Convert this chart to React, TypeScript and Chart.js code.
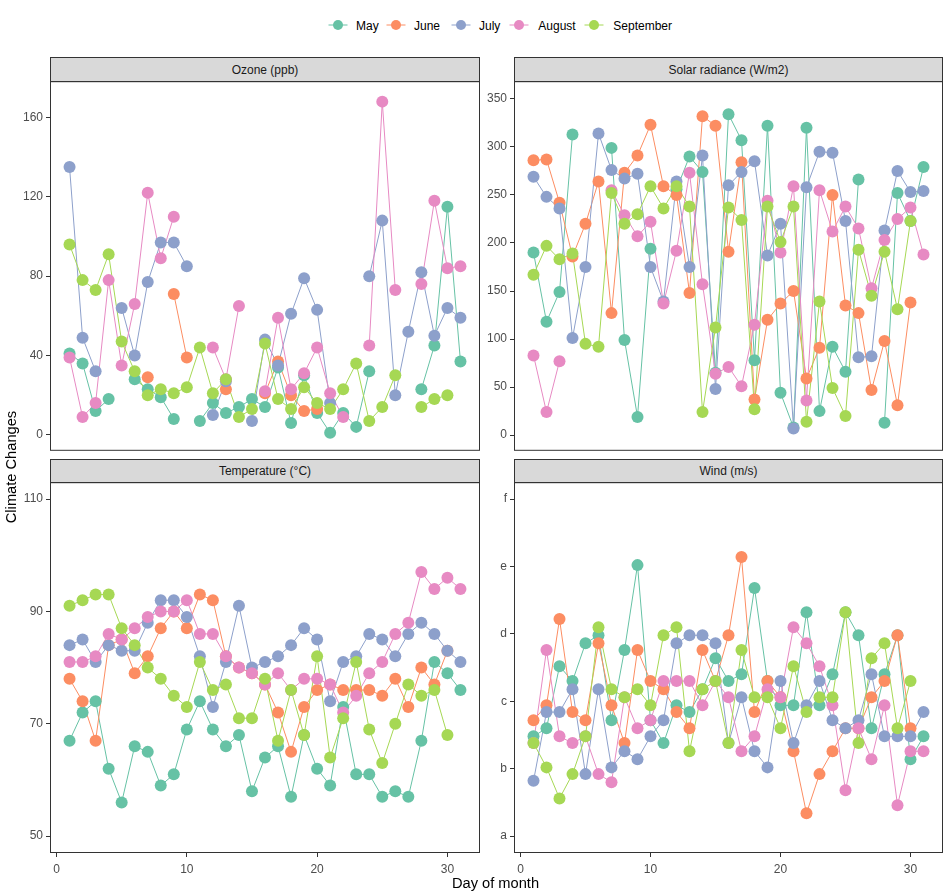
import React, { useEffect, useRef } from "react";
import { Chart, registerables } from "chart.js";

Chart.register(...registerables);

const FONT = '"Liberation Sans", Arial, Helvetica, sans-serif';

// ---------------- data (R airquality, May–September 1973) ----------------
const months = ["May", "June", "July", "August", "September"];
const monthColors = ["#66C2A5", "#FC8D62", "#8DA0CB", "#E78AC3", "#A6D854"];
const days = [1, 2, 3, 4, 5, 6, 7, 8, 9, 10, 11, 12, 13, 14, 15, 16, 17, 18, 19, 20, 21, 22, 23, 24, 25, 26, 27, 28, 29, 30, 31];

const ozoneMay = [41, 36, 12, 18, null, 28, 23, 19, 8, null, 7, 16, 11, 14, 18, 14, 34, 6, 30, 11, 1, 11, 4, 32, null, null, null, 23, 45, 115, 37];
const ozoneJun = [null, null, null, null, null, null, 29, null, 71, 39, null, null, 23, null, null, 21, 37, 20, 12, 13, null, null, null, null, null, null, null, null, null, null];
const ozoneJul = [135, 49, 32, null, 64, 40, 77, 97, 97, 85, null, 10, 27, null, 7, 48, 35, 61, 79, 63, 16, null, null, 80, 108, 20, 52, 82, 50, 64, 59];
const ozoneAug = [39, 9, 16, 78, 35, 66, 122, 89, 110, null, null, 44, 28, 65, null, 22, 59, 23, 31, 44, 21, 9, null, 45, 168, 73, null, 76, 118, 84, 85];
const ozoneSep = [96, 78, 73, 91, 47, 32, 20, 23, 21, 24, 44, 21, 28, 9, 13, 46, 18, 13, 24, 16, 13, 23, 36, 7, 14, 30, null, 14, 18, 20];

const solarMay = [190, 118, 149, 313, null, null, 299, 99, 19, 194, null, 256, 290, 274, 65, 334, 307, 78, 322, 44, 8, 320, 25, 92, 66, 266, null, 13, 252, 223, 279];
const solarJun = [286, 287, 242, 186, 220, 264, 127, 273, 291, 323, 259, 250, 148, 332, 322, 191, 284, 37, 120, 137, 150, 59, 91, 250, 135, 127, 47, 98, 31, 138];
const solarJul = [269, 248, 236, 101, 175, 314, 276, 267, 272, 175, 139, 264, 175, 291, 48, 260, 274, 285, 187, 220, 7, 258, 295, 294, 223, 81, 82, 213, 275, 253, 254];
const solarAug = [83, 24, 77, null, null, null, 255, 229, 207, 222, 137, 192, 273, 157, 64, 71, 51, 115, 244, 190, 259, 36, 255, 212, 238, 215, 153, 203, 225, 237, 188];
const solarSep = [167, 197, 183, 189, 95, 92, 252, 220, 230, 259, 236, 259, 238, 24, 112, 237, 224, 27, 238, 201, 238, 14, 139, 49, 20, 193, 145, 191, 131, 223];

const tempMay = [67, 72, 74, 62, 56, 66, 65, 59, 61, 69, 74, 69, 66, 68, 58, 64, 66, 57, 68, 62, 59, 73, 61, 61, 57, 58, 57, 67, 81, 79, 76];
const tempJun = [78, 74, 67, 84, 85, 79, 82, 87, 90, 87, 93, 92, 82, 80, 79, 77, 72, 65, 73, 76, 77, 76, 76, 76, 75, 78, 73, 80, 77, 83];
const tempJul = [84, 85, 81, 84, 83, 83, 88, 92, 92, 89, 82, 73, 81, 91, 80, 81, 82, 84, 87, 85, 74, 81, 82, 86, 85, 82, 86, 88, 86, 83, 81];
const tempAug = [81, 81, 82, 86, 85, 87, 89, 90, 90, 92, 86, 86, 82, 80, 79, 77, 79, 76, 78, 78, 77, 72, 75, 79, 81, 86, 88, 97, 94, 96, 94];
const tempSep = [91, 92, 93, 93, 87, 84, 80, 78, 75, 73, 81, 76, 77, 71, 71, 78, 67, 76, 68, 82, 64, 71, 81, 69, 63, 70, 77, 75, 76, 68];

const windMay = [7.4, 8.0, 12.6, 11.5, 14.3, 14.9, 8.6, 13.8, 20.1, 8.6, 6.9, 9.7, 9.2, 10.9, 13.2, 11.5, 12.0, 18.4, 11.5, 9.7, 9.7, 16.6, 9.7, 12.0, 16.6, 14.9, 8.0, 12.0, 14.9, 5.7, 7.4];
const windJun = [8.6, 9.7, 16.1, 9.2, 8.6, 14.3, 9.7, 6.9, 13.8, 11.5, 10.9, 9.2, 8.0, 13.8, 11.5, 14.9, 20.7, 9.2, 11.5, 10.3, 6.3, 1.7, 4.6, 6.3, 8.0, 8.0, 10.3, 11.5, 14.9, 8.0];
const windJul = [4.1, 9.2, 9.2, 10.9, 4.6, 10.9, 5.1, 6.3, 5.7, 7.4, 8.6, 14.3, 14.9, 14.9, 14.3, 6.9, 10.3, 6.3, 5.1, 11.5, 6.9, 9.7, 11.5, 8.6, 8.0, 8.6, 12.0, 7.4, 7.4, 7.4, 9.2];
const windAug = [6.9, 13.8, 7.4, 6.9, 7.4, 4.6, 4.0, 10.3, 8.0, 8.6, 11.5, 11.5, 11.5, 9.7, 11.5, 10.3, 6.3, 7.4, 10.9, 10.3, 15.5, 14.3, 12.6, 9.7, 3.4, 8.0, 5.7, 9.7, 2.3, 6.3, 6.3];
const windSep = [6.9, 5.1, 2.8, 4.6, 7.4, 15.5, 10.9, 10.3, 10.9, 9.7, 14.9, 15.5, 6.3, 10.9, 11.5, 6.9, 13.8, 10.3, 10.3, 8.0, 12.6, 9.2, 10.3, 10.3, 16.6, 6.9, 13.2, 14.3, 8.0, 11.5];

const xTicks = [0, 10, 20, 30];
const ozoneTicks = [0, 40, 80, 120, 160];
const solarTicks = [0, 50, 100, 150, 200, 250, 300, 350];
const tempTicks = [50, 70, 90, 110];
const windTicks = [0, 5, 10, 15, 20, 25];
const windTickLabels = ["a", "b", "c", "d", "e", "f"];

const panelTitles = ["Ozone (ppb)", "Solar radiance (W/m2)", "Temperature (°C)", "Wind (m/s)"];
const xTitle = "Day of month";
const yTitle = "Climate Changes";

// ---------------- layout ----------------
const AXW = 45; // y-axis box width inside canvas
const XH = 34; // x-axis box height inside canvas
const PAD = 10;

type PanelSpec = {
  title: string;
  left: number;
  top: number;
  w: number;
  h: number;
  stripTop: number;
  stripH: number;
  hasX: boolean;
  yMin: number;
  yMax: number;
  yTicks: number[];
  yLabels: string[] | null;
  series: (number | null)[][];
};

const panels: PanelSpec[] = [
  { title: panelTitles[0], left: 50, top: 81, w: 430, h: 370, stripTop: 57, stripH: 25, hasX: false, yMin: -8.06, yMax: 178.3, yTicks: ozoneTicks, yLabels: null, series: [ozoneMay, ozoneJun, ozoneJul, ozoneAug, ozoneSep] },
  { title: panelTitles[1], left: 514, top: 81, w: 429, h: 370, stripTop: 57, stripH: 25, hasX: false, yMin: -16.3, yMax: 368.4, yTicks: solarTicks, yLabels: null, series: [solarMay, solarJun, solarJul, solarAug, solarSep] },
  { title: panelTitles[2], left: 50, top: 482, w: 430, h: 371, stripTop: 459, stripH: 24, hasX: true, yMin: 47, yMax: 113, yTicks: tempTicks, yLabels: null, series: [tempMay, tempJun, tempJul, tempAug, tempSep] },
  { title: panelTitles[3], left: 514, top: 482, w: 429, h: 371, stripTop: 459, stripH: 24, hasX: true, yMin: -1.25, yMax: 26.25, yTicks: windTicks, yLabels: windTickLabels, series: [windMay, windJun, windJul, windAug, windSep] },
];

const borderPlugin = {
  id: "panelBorder",
  afterDraw(chart: any) {
    const { ctx, chartArea: a } = chart;
    ctx.save();
    ctx.strokeStyle = "#333333";
    ctx.lineWidth = 1;
    ctx.strokeRect(a.left + 0.5, a.top + 0.5, a.right - a.left - 1, a.bottom - a.top - 1);
    ctx.restore();
  },
};

function Panel({ spec }: { spec: PanelSpec }) {
  const ref = useRef<HTMLCanvasElement>(null);
  const cw = AXW + spec.w + PAD;
  const ch = PAD + spec.h + (spec.hasX ? XH : PAD);

  useEffect(() => {
    if (!ref.current) return;
    const toPts = (vals: (number | null)[]) => vals.map((v, i) => ({ x: days[i], y: v }));
    const lineSets: any[] = [];
    const pointSets: any[] = [];
    spec.series.forEach((vals, m) => {
      lineSets.push({
        label: months[m] + " line",
        data: toPts(vals),
        borderColor: monthColors[m],
        borderWidth: 1,
        pointRadius: 0,
        pointHoverRadius: 0,
        showLine: true,
        spanGaps: false,
        tension: 0,
        fill: false,
        clip: false,
      });
      pointSets.push({
        label: months[m],
        data: toPts(vals),
        showLine: false,
        backgroundColor: monthColors[m],
        borderColor: monthColors[m],
        pointBackgroundColor: monthColors[m],
        pointBorderWidth: 0,
        pointRadius: 6,
        pointHoverRadius: 6,
        clip: false,
      });
    });
    // Chart.js draws dataset 0 last (on top): points above lines, later months above earlier
    const datasets = [...pointSets.reverse(), ...lineSets.reverse()];

    const tickFont = { family: FONT, size: 12 };
    const chart = new Chart(ref.current, {
      type: "line",
      data: { datasets },
      plugins: [borderPlugin],
      options: {
        animation: false,
        responsive: false,
        events: [],
        layout: { padding: { left: 0, top: PAD, right: PAD, bottom: spec.hasX ? 0 : PAD } },
        plugins: { legend: { display: false }, tooltip: { enabled: false } },
        scales: {
          x: {
            type: "linear",
            min: -0.5,
            max: 32.5,
            bounds: "data",
            display: spec.hasX,
            afterBuildTicks: (s: any) => {
              s.ticks = xTicks.map((v) => ({ value: v }));
            },
            afterFit: (s: any) => {
              if (spec.hasX) s.height = XH;
            },
            ticks: {
              autoSkip: false,
              maxRotation: 0,
              font: tickFont,
              color: "#4d4d4d",
              padding: 5,
            },
            grid: { display: true, drawOnChartArea: false, drawTicks: true, tickLength: 4, color: "#333333", lineWidth: 1 },
            border: { display: false },
          },
          y: {
            type: "linear",
            min: spec.yMin,
            max: spec.yMax,
            bounds: "data",
            afterBuildTicks: (s: any) => {
              s.ticks = spec.yTicks.map((v) => ({ value: v }));
            },
            afterFit: (s: any) => {
              s.width = AXW;
            },
            ticks: {
              autoSkip: false,
              font: tickFont,
              color: "#4d4d4d",
              padding: 3,
              callback: (v: any) => {
                if (spec.yLabels) {
                  const idx = spec.yTicks.indexOf(Number(v));
                  return idx >= 0 ? spec.yLabels[idx] : "";
                }
                return String(v);
              },
            },
            grid: { display: true, drawOnChartArea: false, drawTicks: true, tickLength: 4, color: "#333333", lineWidth: 1 },
            border: { display: false },
          },
        },
      } as any,
    });
    return () => chart.destroy();
  }, []);

  return (
    <>
      <div
        style={{
          position: "absolute",
          left: spec.left,
          top: spec.stripTop,
          width: spec.w,
          height: spec.stripH,
          boxSizing: "border-box",
          border: "1px solid #333333",
          background: "#d9d9d9",
          display: "flex",
          alignItems: "center",
          justifyContent: "center",
          fontFamily: FONT,
          fontSize: 12,
          color: "#1a1a1a",
        }}
      >
        {spec.title}
      </div>
      <canvas
        ref={ref}
        width={cw}
        height={ch}
        style={{ position: "absolute", left: spec.left - AXW, top: spec.top - PAD, width: cw, height: ch }}
      />
    </>
  );
}

const legendKeyCenters = [337.7, 395.7, 460.7, 519.3, 594.3];
const legendTextLefts = [356, 414, 479, 538.3, 613.3];

export default function App() {
  return (
    <div style={{ position: "absolute", left: 0, top: 0, width: 945, height: 894, background: "#ffffff", overflow: "hidden" }}>
      {months.map((m, i) => (
        <React.Fragment key={m}>
          <svg
            width={20}
            height={12}
            style={{ position: "absolute", left: legendKeyCenters[i] - 10, top: 19 }}
          >
            <line x1={0.5} y1={6} x2={19.5} y2={6} stroke={monthColors[i]} strokeWidth={1} />
            <circle cx={10} cy={6} r={5} fill={monthColors[i]} />
          </svg>
          <div
            style={{
              position: "absolute",
              left: legendTextLefts[i],
              top: 16,
              height: 20,
              lineHeight: "20px",
              fontFamily: FONT,
              fontSize: 12,
              color: "#000000",
              whiteSpace: "nowrap",
            }}
          >
            {m}
          </div>
        </React.Fragment>
      ))}
      {panels.map((p) => (
        <Panel key={p.title} spec={p} />
      ))}
      <div
        style={{
          position: "absolute",
          left: 395.5,
          top: 873,
          width: 200,
          height: 20,
          lineHeight: "20px",
          textAlign: "center",
          fontFamily: FONT,
          fontSize: 14.67,
          color: "#000000",
        }}
      >
        {xTitle}
      </div>
      <div
        style={{
          position: "absolute",
          left: 11 - 100,
          top: 467 - 10,
          width: 200,
          height: 20,
          lineHeight: "20px",
          textAlign: "center",
          fontFamily: FONT,
          fontSize: 14.67,
          color: "#000000",
          transform: "rotate(-90deg)",
          whiteSpace: "nowrap",
        }}
      >
        {yTitle}
      </div>
    </div>
  );
}
